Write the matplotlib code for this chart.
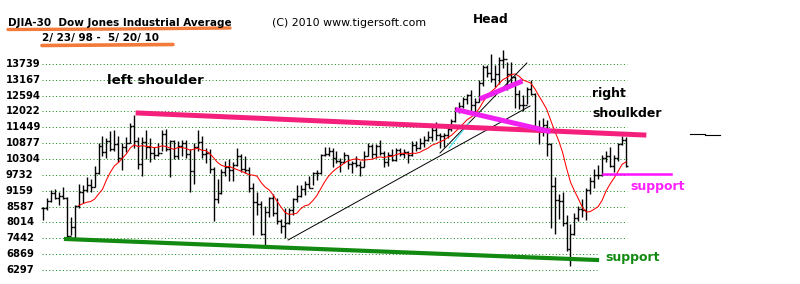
import matplotlib
matplotlib.use('Agg')
import matplotlib.pyplot as plt
import matplotlib.transforms as mtransforms
import numpy as np
import pandas as pd

# monthly bars, Feb 1998 .. May 2010
highs = [
    8560, 8900, 9200, 9230, 9100, 9300, 8950, 8200, 8650, 9400, 9380,                   # 1998
    9650, 9600, 10050, 10900, 11150, 11050, 11300, 11350, 11150, 10900, 11100, 11600,   # 1999
    11900, 11100, 11100, 11350, 11050, 10750, 10900, 11350, 11400, 11000, 11000, 10950, # 2000
    11000, 11000, 10650, 10900, 11350, 11150, 10700, 10650, 10000, 9600, 9950, 10250,   # 2001
    10300, 10200, 10700, 10500, 10400, 10000, 9450, 9100, 8800, 8600, 8950, 9050,       # 2002
    8900, 8150, 8550, 8550, 8900, 9350, 9350, 9500, 9700, 9850, 9900, 10500,            # 2003
    10750, 10750, 10700, 10600, 10350, 10550, 10450, 10250, 10400, 10250, 10600, 10900, # 2004
    10850, 10850, 10990, 10600, 10550, 10650, 10700, 10700, 10650, 10600, 10950, 10950, # 2005
    11050, 11150, 11300, 11450, 11650, 11250, 11250, 11450, 11750, 12200, 12350, 12550, # 2006
    12650, 12800, 12500, 13150, 13700, 13700, 14100, 13700, 14000, 14250, 13800, 13800, # 2007
    13300, 12800, 12600, 12900, 13150, 12700, 11700, 11800, 11700, 10900, 9650, 9050,   # 2008
    9100, 8300, 7950, 8350, 8600, 8850, 9250, 9650, 9950, 10100, 10450, 10600,          # 2009
    10750, 10450, 10900, 11150, 11100]                                                  # 2010
lows = [
    8100, 8450, 8750, 8850, 8650, 8850, 7500, 7550, 7450, 8550, 8700,
    9100, 9100, 9300, 9750, 10400, 10350, 10600, 10600, 10200, 9900, 10550, 10900,
    10700, 9950, 9700, 10300, 10200, 10300, 10400, 10600, 10600, 9650, 10300, 10300,
    10400, 10350, 9100, 9400, 10600, 10350, 10150, 9800, 8050, 8700, 9050, 9700,
    9500, 9500, 10050, 9850, 9800, 9100, 7550, 8300, 7550, 7200, 8200, 8250,
    7950, 7650, 7450, 7950, 8300, 8750, 8950, 9000, 9250, 9350, 9550, 9750,
    10400, 10400, 10000, 10150, 9850, 10150, 9950, 9800, 10000, 9700, 10000, 10400,
    10350, 10350, 10450, 10000, 10050, 10250, 10250, 10400, 10350, 10150, 10400, 10600,
    10650, 10750, 10950, 10950, 11000, 10700, 10750, 11050, 11300, 11650, 11950, 12150,
    12300, 12050, 11950, 12350, 12950, 13250, 13100, 12900, 13000, 13600, 12800, 13050,
    12150, 12100, 12050, 12300, 12600, 11300, 10850, 11150, 10400, 7800, 7600, 8150,
    7900, 7000, 6450, 7550, 8050, 8200, 8100, 9050, 9250, 9600, 9700, 10200,
    10000, 9850, 10250, 10800, 10000]
closes = [
    8546, 8800, 9063, 8900, 8952, 8883, 7539, 7843, 8592, 9117, 9181,
    9359, 9307, 9786, 10789, 10560, 10971, 10655, 10829, 10337, 10729, 10878, 11497,
    10941, 10128, 10922, 10734, 10522, 10448, 10522, 11215, 10651, 10971, 10415, 10787,
    10887, 10495, 9879, 10735, 10912, 10502, 10523, 9950, 8848, 9075, 9852, 10022,
    9920, 10106, 10404, 9946, 9925, 9243, 8737, 8664, 7592, 8397, 8896, 8342,
    8054, 7891, 7992, 8480, 8850, 8985, 9234, 9416, 9275, 9801, 9782, 10454,
    10488, 10584, 10358, 10226, 10188, 10435, 10140, 10174, 10080, 10027, 10428, 10783,
    10490, 10766, 10504, 10193, 10467, 10275, 10641, 10482, 10569, 10440, 10806, 10718,
    10865, 10993, 11109, 11367, 11168, 11150, 11186, 11381, 11679, 12081, 12222, 12463,
    12622, 12269, 12354, 13063, 13628, 13409, 13212, 13358, 13896, 13930, 13372, 13265,
    12650, 12266, 12263, 12820, 12638, 11350, 11378, 11544, 10851, 9325, 8829, 8776,
    8001, 7063, 7609, 8168, 8500, 8447, 9172, 9496, 9712, 9713, 10344, 10428,
    10067, 10325, 10857, 11009, 10068]
assert len(highs) == len(lows) == len(closes) == 148

yticks = [13739, 13167, 12594, 12022, 11449, 10877, 10304,
          9732, 9159, 8587, 8014, 7442, 6869, 6297]

# drawn trend lines: (month index, price)
neckline = ([24.0, 151.5], [11966, 11172])
low_support = ([5.8, 139.7], [7416, 6658])
mag_long = ([104.6, 127.3], [12075, 11316])
mag_short = ([110.7, 120.3], [12508, 13086])
mag_support = ([141.2, 158.3], [9764, 9764])
trend_shallow = ([61.8, 122.8], [7380, 12219])
trend_steep = ([100.1, 122.0], [10522, 13772])
trend_cyan = ([102.4, 107.4], [10703, 11605])

W, H = 800, 284
fig = plt.figure(figsize=(W / 100, H / 100), dpi=100)
ax = fig.add_axes([0, 0, 1, 1])
ax.axis('off')
x0, ppm = 43, 583 / 147          # pixel of first bar, pixels per month
ax.set_xlim(-x0 / ppm, (W - x0) / ppm)
ax.set_ylim(5791.5, 16046.7)

px = mtransforms.Affine2D().scale(1 / W, -1 / H).translate(0, 1) + fig.transFigure
lab = mtransforms.blended_transform_factory(px, ax.transData)

# dotted grid + price labels
for v in yticks:
    xe = 147.3 if v > 7000 else 139.7
    ax.plot([-0.25, xe], [v, v], color='#1a8a1a', lw=0.72, ls=(0, (1, 2.4)), zorder=1)
    ax.text(6, v, str(v), transform=lab, ha='left', va='center',
            fontsize=7.2, fontweight='bold', color='black')

# price bars
x = np.arange(len(closes))
opens = [closes[0]] + closes[:-1]
ax.vlines(x, lows, highs, color='black', lw=1.0, zorder=3)
ax.hlines(opens, x - 0.5, x, color='black', lw=1.0, zorder=3)
ax.hlines(closes, x, x + 0.5, color='black', lw=1.0, zorder=3)

# moving average
ma = pd.Series(closes).rolling(10).mean()
ax.plot(x, ma, color='#ff0000', lw=0.75, zorder=4)

# trend lines
ax.plot(*trend_shallow, color='black', lw=0.7, zorder=4)
ax.plot(*trend_steep, color='black', lw=0.7, zorder=4)
ax.plot(*trend_cyan, color='#40dff0', lw=0.8, zorder=4)
ax.plot(*neckline, color='#f5207c', lw=3.6, zorder=5)
ax.plot(*low_support, color='#128a12', lw=3.0, zorder=5)
ax.plot(*mag_long, color='#f020f0', lw=3.6, zorder=5)
ax.plot(*mag_short, color='#f020f0', lw=3.6, zorder=5)
ax.plot(*mag_support, color='#ff10ff', lw=1.8, zorder=5)
ax.plot([163.1, 166.9], [11208, 11208], color='black', lw=0.8)
ax.plot([166.9, 170.7], [11172, 11172], color='black', lw=0.8)

# header texts
ax.text(8, 26, 'DJIA-30  Dow Jones Industrial Average', transform=px,
        fontsize=7.5, fontweight='bold', va='baseline')
ax.text(42, 41, '2/ 23/ 98 -  5/ 20/ 10', transform=px,
        fontsize=7.5, fontweight='bold', va='baseline')
ax.plot([8, 120, 230], [29.5, 29, 28], transform=px, color='#f27a3a', lw=2.4,
        solid_capstyle='round')
ax.plot([42, 110, 173], [45.5, 45, 44.5], transform=px, color='#f27a3a', lw=2.6,
        solid_capstyle='round')
ax.text(272, 26, '(C) 2010 www.tigersoft.com', transform=px,
        fontsize=7.9, va='baseline')
ax.text(473, 23, 'Head', transform=px, fontsize=8.8, fontweight='bold', va='baseline')
ax.text(107, 84, 'left shoulder', transform=px, fontsize=9.6, fontweight='bold',
        va='baseline')
ax.text(592, 97, 'right', transform=px, fontsize=9, fontweight='bold', va='baseline')
ax.text(592, 117, 'shoulkder', transform=px, fontsize=9, fontweight='bold',
        va='baseline')
ax.text(630, 190, 'support', transform=px, fontsize=9, fontweight='bold',
        color='#ff20ff', va='baseline')
ax.text(605, 261, 'support', transform=px, fontsize=9, fontweight='bold',
        color='#128a12', va='baseline')

fig.savefig('out.png', dpi=100)
